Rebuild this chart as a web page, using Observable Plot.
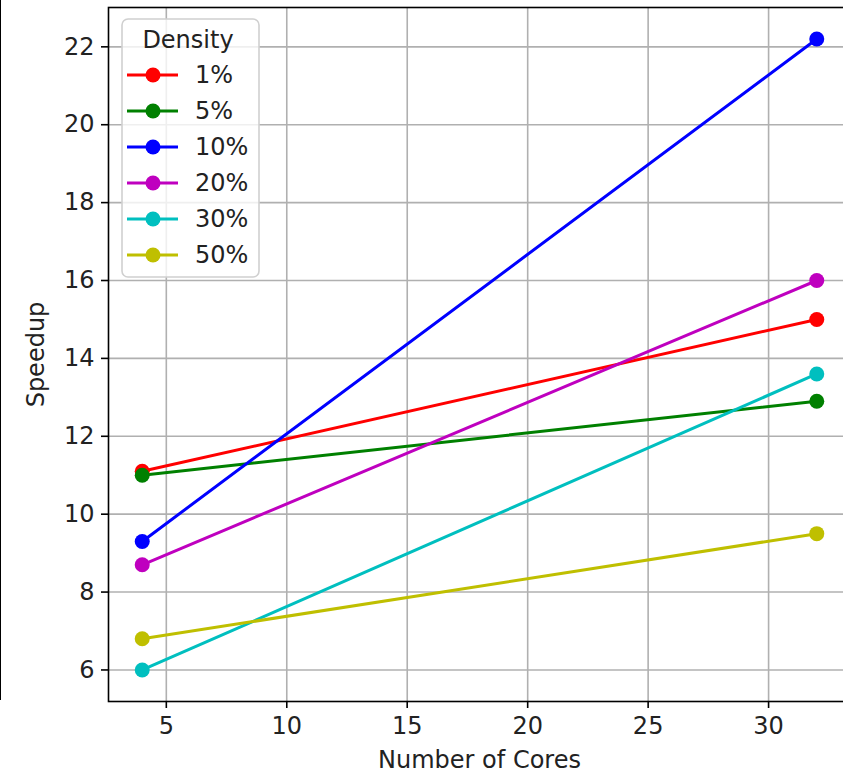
<!DOCTYPE html>
<html>
<head>
<meta charset="utf-8">
<script src="https://cdn.jsdelivr.net/npm/d3@7"></script>
<script src="https://cdn.jsdelivr.net/npm/@observablehq/plot@0.6"></script>
<style>
  html, body { margin: 0; padding: 0; background: #fff; }
  #wrap { position: relative; width: 843px; height: 775px; overflow: hidden; font-family: "DejaVu Sans", sans-serif; }
  #edge { position: absolute; left: 0; top: 0; width: 0; height: 700px; border-left: 1.6px solid #000; }
  #legend { position: absolute; left: 121px; top: 18px; }
</style>
</head>
<body>
<div id="wrap"><div id="edge"></div></div>
<script>
const cores = [4, 32];
const densities = ["1%", "5%", "10%", "20%", "30%", "50%"];
const colors = ["#ff0000", "#008000", "#0000ff", "#bf00bf", "#00bfbf", "#bfbf00"];
const speedupAt4 = [11.1, 11.0, 9.3, 8.7, 6.0, 6.8];
const speedupAt32 = [15.0, 12.9, 22.2, 16.0, 13.6, 9.5];
const xTicks = [5, 10, 15, 20, 25, 30];
const yTicks = [6, 8, 10, 12, 14, 16, 18, 20, 22];

const rows = [];
densities.forEach((d, i) => {
  rows.push({density: d, cores: cores[0], speedup: speedupAt4[i]});
  rows.push({density: d, cores: cores[1], speedup: speedupAt32[i]});
});

const fontSize = 24;
const chart = Plot.plot({
  width: 852,
  height: 775,
  marginLeft: 108,
  marginRight: 2,
  marginTop: 7,
  marginBottom: 74,
  style: {fontFamily: "'DejaVu Sans', sans-serif", fontSize: fontSize + "px", color: "#222", background: "transparent", maxWidth: "none"},
  x: {domain: [2.6, 33.4]},
  y: {domain: [5.19, 23.01]},
  color: {domain: densities, range: colors},
  marks: [
    Plot.gridX(xTicks, {stroke: "#b0b0b0", strokeOpacity: 1, strokeWidth: 1.6}),
    Plot.gridY(yTicks, {stroke: "#b0b0b0", strokeOpacity: 1, strokeWidth: 1.6}),
    Plot.axisX({ticks: xTicks, tickSize: 7, tickPadding: 8, fontSize, label: "Number of Cores", labelAnchor: "center", labelArrow: "none", labelOffset: 66, stroke: "#000", strokeWidth: 1.6}),
    Plot.axisY({ticks: yTicks, tickSize: 7, tickPadding: 7, fontSize, label: "Speedup", labelAnchor: "center", labelArrow: "none", labelOffset: 82, stroke: "#000", strokeWidth: 1.6}),
    Plot.line(rows, {x: "cores", y: "speedup", z: "density", stroke: "density", strokeWidth: 3}),
    Plot.dot(rows, {x: "cores", y: "speedup", fill: "density", r: 7.5}),
    Plot.frame({stroke: "#000", strokeWidth: 1.6})
  ]
});
const wrap = document.getElementById("wrap");
chart.style.position = "absolute";
chart.style.left = "0px";
chart.style.top = "0px";
chart.style.maxWidth = "none";
chart.setAttribute("width", 852);
wrap.appendChild(chart);

// legend
const lw = 138, lh = 259, rowH = 36, firstRow = 57;
const svg = d3.create("svg").attr("id", "legend").attr("width", lw + 2).attr("height", lh + 2)
  .style("font-family", "'DejaVu Sans', sans-serif").style("font-size", fontSize + "px");
svg.append("rect").attr("x", 1).attr("y", 1).attr("width", lw - 1).attr("height", lh - 1)
  .attr("rx", 6).attr("fill", "rgba(255,255,255,0.8)").attr("stroke", "#d0d0d0").attr("stroke-width", 1.6);
svg.append("text").attr("x", 67).attr("y", 22).attr("text-anchor", "middle").attr("dy", "0.35em")
  .attr("fill", "#222").text("Density");
densities.forEach((d, i) => {
  const cy = firstRow + i * rowH;
  svg.append("line").attr("x1", 6).attr("x2", 57).attr("y1", cy).attr("y2", cy)
    .attr("stroke", colors[i]).attr("stroke-width", 3);
  svg.append("circle").attr("cx", 32).attr("cy", cy).attr("r", 7.5).attr("fill", colors[i]);
  svg.append("text").attr("x", 74).attr("y", cy).attr("dy", "0.35em").attr("fill", "#222").text(d);
});
wrap.appendChild(svg.node());
</script>
</body>
</html>
